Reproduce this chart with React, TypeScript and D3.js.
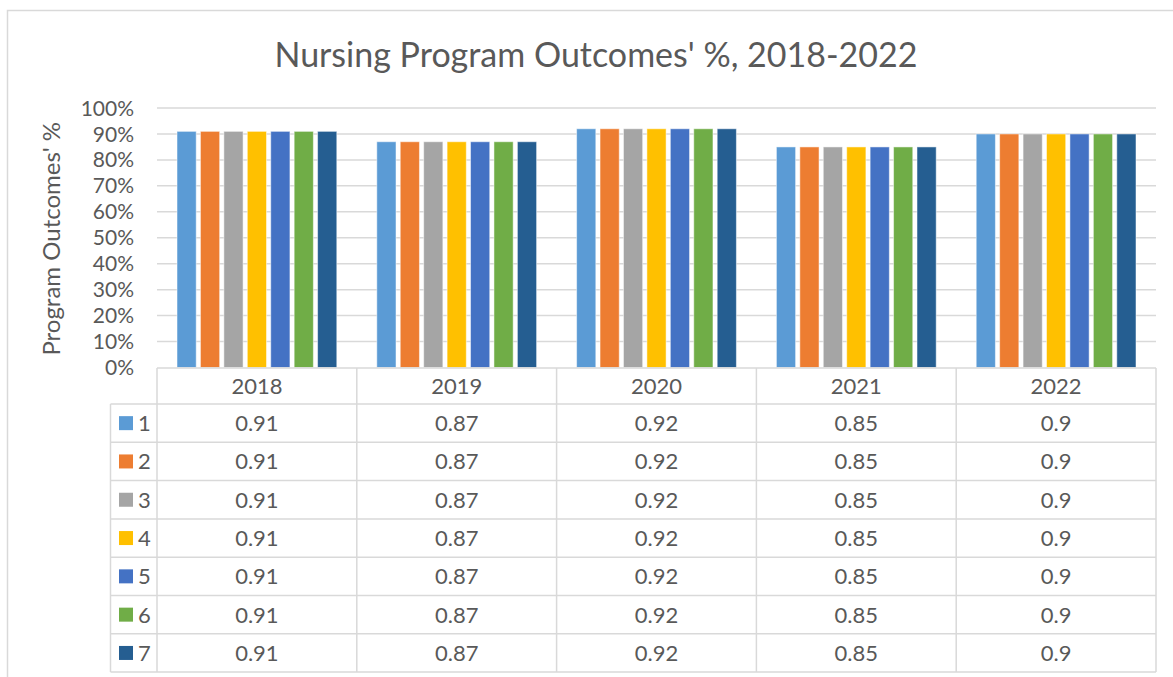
import * as d3 from "d3";
import React from "react";

const years = ["2018", "2019", "2020", "2021", "2022"];
const seriesNames = ["1", "2", "3", "4", "5", "6", "7"];
const s1 = [0.91, 0.87, 0.92, 0.85, 0.9];
const s2 = [0.91, 0.87, 0.92, 0.85, 0.9];
const s3 = [0.91, 0.87, 0.92, 0.85, 0.9];
const s4 = [0.91, 0.87, 0.92, 0.85, 0.9];
const s5 = [0.91, 0.87, 0.92, 0.85, 0.9];
const s6 = [0.91, 0.87, 0.92, 0.85, 0.9];
const s7 = [0.91, 0.87, 0.92, 0.85, 0.9];
const seriesValues = [s1, s2, s3, s4, s5, s6, s7];
const colors = ["#5B9BD5", "#ED7D31", "#A5A5A5", "#FFC000", "#4472C4", "#70AD47", "#255E91"];
const yTicks = [0, 0.1, 0.2, 0.3, 0.4, 0.5, 0.6, 0.7, 0.8, 0.9, 1];

const W = 1173;
const H = 677;
const font = "Lato, 'Open Sans', sans-serif";
const textColor = "#595959";
const lineColor = "#d9d9d9";

const App: React.FC = () => {
    const plotLeft = 157, plotRight = 1156, plotTop = 108, plotBottom = 367.5;
    const x = d3.scaleBand().domain(years).range([plotLeft, plotRight]);
    const inner = d3.scaleBand().domain(seriesNames).range([20, x.bandwidth() - 20]).paddingInner(0.18);
    const y = d3.scaleLinear().domain([0, 1]).range([plotBottom, plotTop]);

    const headerTop = 368, headerBottom = 404, rowH = 38.3;
    const legendLeft = 110.5;
    const row = d3.scaleBand().domain(seriesNames).range([headerBottom, headerBottom + rowH * 7]);
    const tableBottom = headerBottom + rowH * 7;

    return (
        <svg width={W} height={H} style={{ position: "absolute", left: 0, top: 0, background: "white" }}>
            <rect x={7.5} y={10.5} width={W + 20} height={H + 20} fill="white" stroke={lineColor} strokeWidth={1.5} />
            <text x={596} y={67} textAnchor="middle" fontFamily={font} fontSize={34} fill={textColor}>
                Nursing Program Outcomes' %, 2018-2022
            </text>

            {yTicks.map(t => (
                <g key={t}>
                    {t > 0 && <line x1={plotLeft} x2={plotRight} y1={y(t)} y2={y(t)} stroke={lineColor} strokeWidth={1.5} />}
                    <text x={134} y={y(t)} dy="0.36em" textAnchor="end" fontFamily={font} fontSize={21} fill={textColor}>
                        {d3.format(".0%")(t)}
                    </text>
                </g>
            ))}
            <text transform={`translate(60, ${(plotTop + plotBottom) / 2 + 1}) rotate(-90)`} textAnchor="middle"
                fontFamily={font} fontSize={24} fill={textColor}>
                Program Outcomes' %
            </text>

            {years.map((yr, i) => (
                <g key={yr} transform={`translate(${x(yr)}, 0)`}>
                    {seriesNames.map((s, k) => (
                        <rect key={s} x={inner(s)} y={y(seriesValues[k][i])} width={inner.bandwidth()}
                            height={plotBottom - y(seriesValues[k][i])} fill={colors[k]}
                            stroke="white" strokeOpacity={0.5} strokeWidth={1} />
                    ))}
                </g>
            ))}

            {/* data table */}
            <g stroke={lineColor} strokeWidth={1.5}>
                <line x1={plotLeft} x2={plotRight} y1={headerTop} y2={headerTop} />
                <line x1={legendLeft} x2={plotRight} y1={headerBottom} y2={headerBottom} />
                {seriesNames.map(s => (
                    <line key={s} x1={legendLeft} x2={plotRight} y1={row(s)! + rowH} y2={row(s)! + rowH} />
                ))}
                <line x1={legendLeft} x2={legendLeft} y1={headerBottom} y2={tableBottom} />
                {years.map(yr => (
                    <line key={yr} x1={x(yr)} x2={x(yr)} y1={headerTop} y2={tableBottom} />
                ))}
                <line x1={plotRight} x2={plotRight} y1={headerTop} y2={tableBottom} />
            </g>
            {years.map(yr => (
                <text key={yr} x={x(yr)! + x.bandwidth() / 2} y={(headerTop + headerBottom) / 2} dy="0.36em"
                    textAnchor="middle" fontFamily={font} fontSize={22} fill={textColor}>{yr}</text>
            ))}
            {seriesNames.map((s, k) => (
                <g key={s}>
                    <rect x={119} y={row(s)! + rowH / 2 - 7} width={14} height={14} fill={colors[k]} />
                    <text x={138} y={row(s)! + rowH / 2} dy="0.36em" fontFamily={font} fontSize={22} fill={textColor}>{s}</text>
                    {years.map((yr, i) => (
                        <text key={yr} x={x(yr)! + x.bandwidth() / 2} y={row(s)! + rowH / 2} dy="0.36em"
                            textAnchor="middle" fontFamily={font} fontSize={22} fill={textColor}>
                            {String(seriesValues[k][i])}
                        </text>
                    ))}
                </g>
            ))}
        </svg>
    );
};

export default App;
